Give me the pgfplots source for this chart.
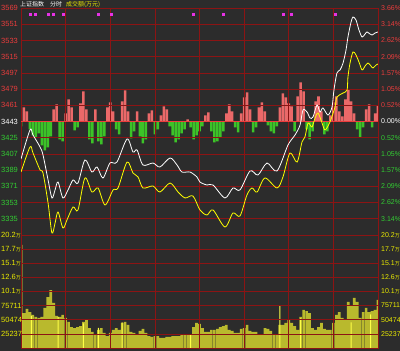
\documentclass[border=0pt]{standalone}
\usepackage{pgfplots}
\pgfplotsset{compat=1.18}
\usepackage{fontspec}
\setmainfont{Liberation Sans}
\newfontfamily\cjk{Noto Sans CJK SC}

\definecolor{bg}{RGB}{44,44,44}
\definecolor{gridred}{RGB}{140,20,20}
\definecolor{lblred}{RGB}{235,60,60}
\definecolor{lblgreen}{RGB}{50,205,50}
\definecolor{lblyellow}{RGB}{235,235,0}
\definecolor{barred}{RGB}{235,105,105}
\definecolor{bargreen}{RGB}{60,195,40}
\definecolor{volbar}{RGB}{185,185,45}
\definecolor{volbright}{RGB}{255,255,70}
\definecolor{mag}{RGB}{230,50,230}
\definecolor{lineyellow}{RGB}{255,255,0}

\newcommand{\labR}[1]{\textcolor{lblred}{#1}}
\newcommand{\labG}[1]{\textcolor{lblgreen}{#1}}
\newcommand{\labW}[1]{\textcolor{white}{#1}}
\newcommand{\labY}[1]{\textcolor{lblyellow}{#1}}
\newcommand{\wan}{{\cjk\fontsize{5}{6}\selectfont 万}}

\pgfplotsset{
 panel/.style={scale only axis, width=357pt, xmin=0, xmax=240, anchor=south west,
   xtick={30,60,90,120,150,180,210}, xticklabels={},
   major tick length=0pt, tick style={draw=none},
   axis line style={draw=gridred, line width=0.8pt},
   grid=major, major grid style={draw=gridred, line width=0.6pt},
   yticklabel style={font=\fontsize{7.5}{8}\selectfont, anchor=west, inner sep=0pt, xshift=-20pt},
 },
 rlabels/.style={scale only axis, width=357pt, xmin=0, xmax=240, anchor=south west,
   axis line style={draw=none}, xtick=\empty, major tick length=0pt, tick style={draw=none},
   yticklabel pos=right,
   yticklabel style={font=\fontsize{7}{8}\selectfont, anchor=west, inner sep=0pt, xshift=3pt}},
}

\begin{document}
\begin{tikzpicture}
\fill[bg] (0,0) rectangle (400pt,351pt);
\useasboundingbox (0,0) rectangle (400pt,351pt);

% ---- strength bars (red/green) + right percentage labels
\begin{axis}[rlabels, at={(21pt,116pt)}, height=227pt, ymin=-113.5, ymax=113.5,
  ytick={-97.29,-81.07,-64.86,-48.64,-32.43,-16.21,0,16.21,32.43,48.64,64.86,81.07,97.29,113.5},
  yticklabels={\labG{3.14\%},\labG{2.62\%},\labG{2.09\%},\labG{1.57\%},\labG{1.05\%},\labG{0.52\%},\labW{0.00\%},\labR{0.52\%},\labR{1.05\%},\labR{1.57\%},\labR{2.09\%},\labR{2.62\%},\labR{3.14\%},\labR{3.66\%}}]
\addplot[ybar, bar width=1.7, fill=barred, draw=none] coordinates {
(2,14)(4,10)(22,12)(24,17)(30,8)(32,22)(34,14)(40,18)(42,30)(44,12)(50,12)(58,14)(60,19)(62,10)(68,20)(70,31)(72,10)(78,10)(86,8)(88,11)(94,6)(96,15)(98,12)(112,2)(124,6)(126,9)(138,8)(140,17)(142,10)(148,8)(150,24)(152,29)(154,12)(160,14)(162,19)(164,10)(174,14)(176,28)(178,24)(180,18)(182,15)(186,25)(188,39)(190,30)(198,20)(200,25)(202,10)(208,6)(210,19)(212,25)(214,10)(216,5)(218,22)(220,32)(222,20)(224,8)(232,12)(234,17)(238,8)(240,16)};
\addplot[ybar, bar width=1.7, fill=bargreen, draw=none] coordinates {
(0,-5)(6,-8)(8,-14)(10,-16)(12,-12)(14,-24)(16,-29)(18,-26)(20,-15)(26,-18)(28,-20)(36,-9)(38,-6)(46,-18)(48,-22)(52,-20)(54,-23)(56,-15)(64,-8)(66,-13)(74,-17)(76,-10)(80,-15)(82,-22)(84,-18)(90,-13)(92,-8)(100,-5)(102,-14)(104,-21)(106,-18)(108,-12)(110,-8)(114,-6)(116,-18)(118,-14)(120,-10)(122,-5)(128,-10)(130,-21)(132,-20)(134,-16)(136,-10)(144,-6)(146,-11)(156,-11)(158,-6)(166,-4)(168,-10)(170,-12)(172,-5)(184,-10)(192,-8)(194,-18)(196,-10)(204,-13)(206,-10)(226,-8)(228,-16)(230,-6)(236,-6)};
\end{axis}

% ---- price panel
\begin{axis}[panel, at={(21pt,116pt)}, height=227pt, ymin=3317, ymax=3569,
  ytick={3335,3353,3371,3389,3407,3425,3443,3461,3479,3497,3515,3533,3551,3569},
  yticklabels={\labG{3335},\labG{3353},\labG{3371},\labG{3389},\labG{3407},\labG{3425},\labW{3443},\labR{3461},\labR{3479},\labR{3497},\labR{3515},\labR{3533},\labR{3551},\labR{3569}}]
\addplot[lblred, line width=0.8pt] coordinates {(0,3443)(240,3443)};
\addplot[white, line width=0.8pt, smooth] coordinates {
(0,3401.4)(6.05,3433.6)(8.07,3428.0)(12.8,3414.7)(14.8,3405.8)(18.2,3378.1)(20.8,3358.1)(22.9,3367.0)(24.9,3375.8)(28.2,3358.1)(31.6,3367.0)(35.0,3378.1)(38.3,3374.7)(43.0,3400.3)(47.7,3386.9)(51.1,3392.5)(55.1,3380.3)(59.8,3396.9)(64.5,3398.0)(71.3,3423.6)(75.3,3409.1)(78.0,3411.4)(82.0,3394.7)(88.7,3396.9)(93.4,3392.5)(100.2,3402.5)(104.9,3394.7)(108.2,3386.9)(113.6,3386.9)(118.3,3381.4)(120.3,3375.8)(125.0,3372.5)(129.1,3372.5)(137.1,3358.1)(142.5,3369.2)(147.2,3367.0)(154.0,3388.1)(159.3,3383.6)(165.4,3396.9)(172.1,3388.1)(179.5,3416.9)(184.2,3428.0)(187.6,3439.1)(189.6,3455.8)(192.3,3453.5)(194.3,3446.9)(196.3,3448.0)(199.0,3461.3)(201.0,3453.5)(203.0,3458.0)(206.4,3450.2)(209.1,3459.1)(210.4,3478.0)(212.4,3496.8)(214.5,3500.2)(216.5,3507.9)(218.5,3522.4)(219.8,3536.8)(221.9,3553.5)(223.2,3559.0)(225.2,3555.7)(227.2,3544.6)(229.3,3536.8)(231.3,3540.1)(232.6,3542.4)(234.6,3540.1)(236.0,3539.0)(238.0,3541.2)(240,3542.4)};
\addplot[lineyellow, line width=0.8pt, smooth] coordinates {
(0,3386.9)(6.05,3414.7)(8.07,3408.0)(12.8,3389.2)(14.8,3385.8)(18.2,3352.5)(20.8,3319.2)(22.9,3330.3)(24.9,3342.5)(28.2,3324.8)(30.9,3333.7)(35.0,3348.1)(38.3,3344.8)(43.0,3380.3)(47.7,3364.7)(51.8,3369.2)(56.5,3350.3)(61.9,3367.0)(65.2,3369.2)(71.3,3398.0)(75.3,3385.8)(78.7,3381.4)(82.0,3369.2)(88.7,3371.4)(93.4,3364.7)(100.2,3374.7)(105.6,3364.7)(110.3,3358.1)(115.6,3360.3)(120.3,3344.8)(125.0,3339.2)(129.1,3344.8)(137.1,3325.9)(142.5,3341.4)(147.2,3338.1)(151.9,3361.4)(155.3,3369.2)(158.7,3364.7)(164.0,3380.3)(172.1,3369.2)(176.1,3381.4)(180.8,3408.0)(185.6,3398.0)(188.9,3420.2)(190.9,3425.8)(193.0,3441.3)(195.6,3436.9)(197.7,3446.9)(199.7,3452.4)(202.4,3441.3)(204.4,3433.6)(207.7,3442.4)(211.1,3459.1)(212.4,3470.2)(216.5,3474.6)(219.2,3478.0)(219.8,3492.4)(221.2,3507.9)(223.2,3520.2)(225.2,3516.8)(227.2,3509.1)(229.3,3500.2)(231.3,3504.6)(233.3,3507.9)(235.3,3504.6)(236.6,3502.4)(238.7,3505.7)(240,3506.8)};
\addplot[only marks, mark=square*, mark size=1pt, mag] coordinates {
(6,3562)(9.4,3562)(18.2,3562)(21.5,3562)(28.2,3562)(51.8,3562)(60.5,3562)(115.6,3562)(135.8,3562)(176.1,3562)(181.5,3562)(211.1,3562)};
\end{axis}

% ---- volume panel
\begin{axis}[panel, at={(21pt,3pt)}, height=113pt, ymin=0, ymax=20.1896, axis on top,
  ytick={2.5237,5.0474,7.5711,10.0948,12.6185,15.1422,17.6659,20.1896},
  yticklabels={\labY{25237},\labY{50474},\labY{75711},\labY{10.1\wan},\labY{12.6\wan},\labY{15.1\wan},\labY{17.7\wan},\labY{20.2\wan}}]
\addplot[ybar, bar width=1.8, fill=volbar, draw=none] coordinates {
(0,18.41)(2,6.25)(4,6.97)(6,6.43)(8,5.90)(10,5.54)(12,5.36)(14,5.54)(16,7.15)(18,9.11)(20,10.36)(22,8.04)(24,5.72)(26,5.54)(28,5.90)(30,5.36)(32,4.65)(34,3.75)(36,3.57)(38,3.75)(40,3.93)(42,4.65)(44,5.00)(46,3.57)(48,2.86)(50,2.32)(52,3.22)(54,3.57)(56,2.68)(58,2.14)(60,2.68)(62,3.22)(64,3.57)(66,3.22)(68,4.47)(70,4.65)(72,4.11)(74,2.86)(76,2.68)(78,2.32)(80,3.04)(82,3.40)(84,2.68)(86,2.14)(88,1.97)(90,2.14)(92,2.14)(94,1.79)(96,1.79)(98,1.97)(100,1.97)(102,2.14)(104,2.14)(106,2.14)(108,2.32)(110,2.32)(112,2.32)(114,2.50)(116,3.75)(118,4.47)(120,4.29)(122,3.57)(124,2.86)(126,2.86)(128,3.22)(130,3.22)(132,3.40)(134,3.75)(136,3.93)(138,4.11)(140,3.22)(142,3.04)(144,2.68)(146,2.68)(148,3.40)(150,3.57)(152,4.11)(154,3.04)(156,2.86)(158,2.86)(160,2.32)(162,2.50)(164,3.57)(166,3.40)(168,3.04)(170,2.32)(172,2.32)(174,4.11)(176,4.11)(178,4.47)(180,5.00)(182,4.47)(184,3.93)(186,3.22)(188,5.54)(190,6.79)(192,6.61)(194,6.25)(196,3.57)(198,3.22)(200,3.75)(202,4.47)(204,3.40)(206,3.22)(208,3.22)(210,4.47)(212,5.90)(214,6.43)(216,5.36)(218,5.00)(220,8.22)(222,7.68)(224,8.94)(226,8.22)(228,5.36)(230,6.43)(232,7.15)(234,6.43)(236,6.61)(238,6.79)(240,8.58)};
\addplot[ybar, bar width=0.7, fill=volbright, draw=none] coordinates {
(0.4,18.41)(7,5.7)(25,5.5)(42,4.4)(52,3.6)(68,4.6)(114,2.4)(174,7.51)(188,5.3)(222,4.6)(235,6.0)};
\end{axis}
\begin{axis}[rlabels, at={(21pt,3pt)}, height=113pt, ymin=0, ymax=20.1896,
  ytick={2.5237,5.0474,7.5711,10.0948,12.6185,15.1422,17.6659,20.1896},
  yticklabels={\labY{25237},\labY{50474},\labY{75711},\labY{10.1\wan},\labY{12.6\wan},\labY{15.1\wan},\labY{17.7\wan},\labY{20.2\wan}}]
\addplot[draw=none] coordinates {(0,0)(240,0)};
\end{axis}

\node[anchor=west, inner sep=0pt] at (20pt,346.5pt) {\cjk\fontsize{6}{7}\selectfont\textcolor{white}{上证指数}\hspace{6pt}\textcolor{white}{分时}\hspace{4pt}\textcolor{lblyellow}{成交额(万元)}};
\end{tikzpicture}
\end{document}
